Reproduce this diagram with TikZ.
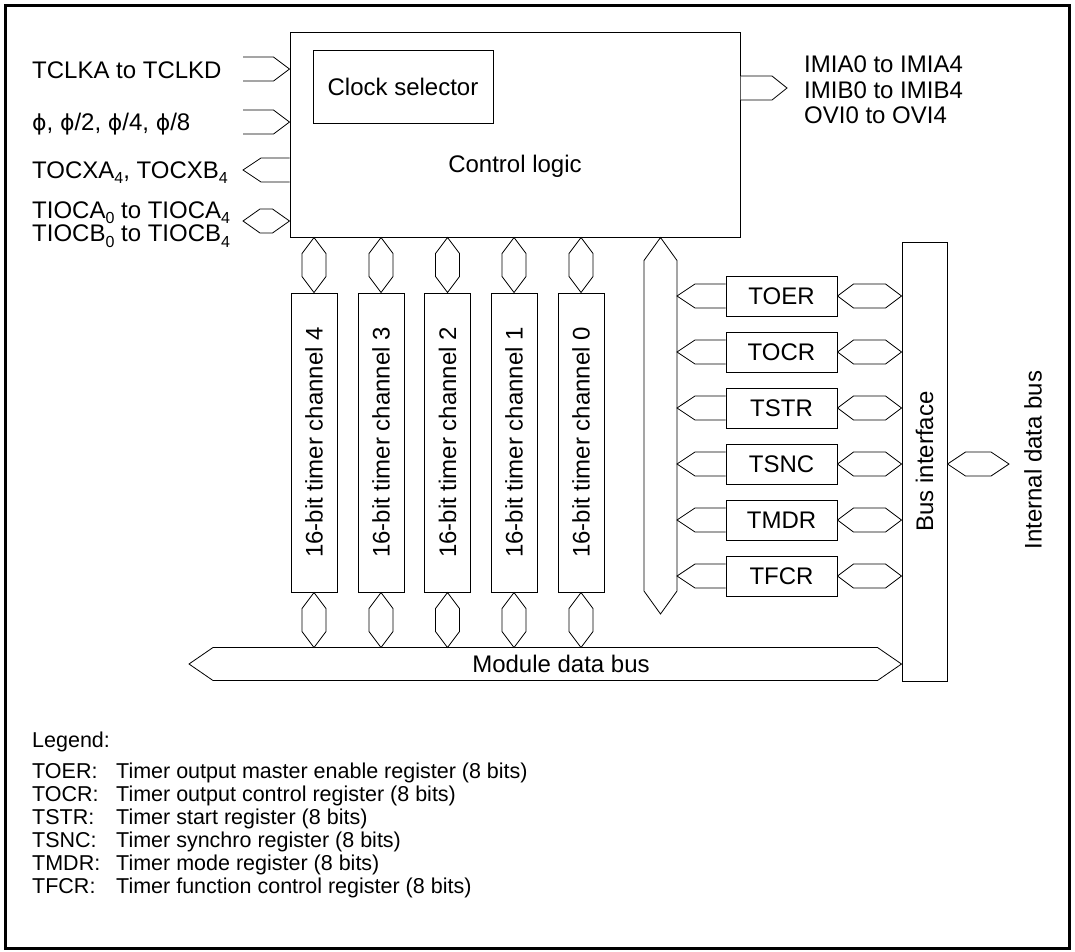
\documentclass[tikz,border=0pt]{standalone}
\usepackage{fontspec}
\setmainfont{Liberation Sans}
\newfontfamily\dvfont{DejaVu Sans}
\usetikzlibrary{calc}
\newcommand\mysub[1]{\raisebox{-0.24em}{\fontsize{16pt}{16pt}\selectfont #1}}
\newcommand\myphi{{\dvfont\fontsize{22pt}{26pt}\selectfont ϕ}}
% horizontal hexagon: #1 half height, #2 head length, #3 left tip, #4 right tip
\newcommand\hhex[4]{\draw[bus] let \p1=#3, \p2=#4 in (\x1,\y1) -- (\x1+#2,\y1+#1) -- (\x2-#2,\y1+#1) -- (\x2,\y1) -- (\x2-#2,\y1-#1) -- (\x1+#2,\y1-#1) -- cycle;}
% right pointing arrow: #3 open end, #4 tip
\newcommand\harrR[4]{\draw[bus] let \p1=#3, \p2=#4 in (\x1,\y2+#1) -- (\x2-#2,\y2+#1) -- (\x2,\y2) -- (\x2-#2,\y2-#1) -- (\x1,\y2-#1);}
% left pointing arrow: #3 tip, #4 open end
\newcommand\harrL[4]{\draw[bus] let \p1=#3, \p2=#4 in (\x2,\y1+#1) -- (\x1+#2,\y1+#1) -- (\x1,\y1) -- (\x1+#2,\y1-#1) -- (\x2,\y1-#1);}
% vertical hexagon: #1 half width, #2 head length, #3 top tip, #4 bottom tip
\newcommand\vhex[4]{\draw[bus] let \p1=#3, \p2=#4 in (\x1,\y1) -- (\x1+#1,\y1-#2) -- (\x1+#1,\y2+#2) -- (\x1,\y2) -- (\x1-#1,\y2+#2) -- (\x1-#1,\y1-#2) -- cycle;}
\tikzset{
  lbl/.style={font=\fontsize{24pt}{28pt}\selectfont, inner sep=0pt},
  leg/.style={font=\fontsize{21.5pt}{24pt}\selectfont, inner sep=0pt, anchor=base west},
  box/.style={draw, line width=1pt, fill=white, inner sep=0pt, font=\fontsize{24pt}{28pt}\selectfont},
  bus/.style={draw, line width=0.8pt, line join=miter, fill=white},
}
\begin{document}
\begin{tikzpicture}[x=1pt,y=-1pt]
\useasboundingbox (0,0) rectangle (1075,951);
\draw[line width=3pt] (5.5,5.5) rectangle (1069.5,948.5);

% control logic
\node[box, minimum width=450pt, minimum height=205pt] (ctrl) at (515,134.5) {};
\node[box, minimum width=180pt, minimum height=73pt] (clk) at (403,86.5) {Clock selector};
\node[lbl, anchor=base] (ctrlt) at (515,172.5) {Control logic};

% bus interface
\node[box, minimum width=45pt, minimum height=439pt] (businf) at (924.5,461.5) {};
\node[lbl, rotate=90] (businft) at (businf) {Bus interface};

% module data bus
\coordinate (mbL) at (189,664);
\coordinate (mbT) at (0,647.5);
\hhex{16.5pt}{24pt}{(mbL)}{(businf.west |- mbL)}
\node[lbl, anchor=base] (mbt) at (561,672) {Module data bus};

% channels
\foreach \ci/\cx in {4/314,3/381,2/447.5,1/514,0/581} {
  \node[box, minimum width=46pt, minimum height=299pt] (ch\ci) at (\cx,442.5) {};
  \node[lbl, rotate=90] (cht\ci) at (ch\ci) {16-bit timer channel \ci};
  \vhex{12pt}{16pt}{(ch\ci.north |- ctrl.south)}{(ch\ci.north)}
  \vhex{12pt}{16pt}{(ch\ci.south)}{(ch\ci.south |- mbT)}
}

% vertical register bus
\coordinate (vbB) at (660.5,614);
\coordinate (vbR) at (677,0);
\vhex{16.5pt}{23pt}{(vbB |- ctrl.south)}{(vbB)}

% registers
\foreach \rn/\ry in {TOER/296,TOCR/352,TSTR/408,TSNC/464,TMDR/520,TFCR/576} {
  \node[box, minimum width=111pt, minimum height=40pt] (\rn) at (781.5,\ry) {\rn};
  \harrL{12pt}{18pt}{(vbR |- \rn.west)}{(\rn.west)}
  \hhex{12pt}{16pt}{(\rn.east)}{(businf.west |- \rn.east)}
}

% internal data bus
\coordinate (idb) at (1009,464);
\hhex{12pt}{18pt}{(businf.east |- idb)}{(idb)}
\node[lbl, rotate=90] (idbt) at (1033,460) {Internal data bus};

% left signals
\coordinate (inA) at (243,69);
\coordinate (inB) at (243,122);
\coordinate (outC) at (243,170);
\coordinate (ioD) at (243,221);
\harrR{12pt}{16pt}{(inA)}{(ctrl.west |- inA)}
\harrR{12pt}{16pt}{(inB)}{(ctrl.west |- inB)}
\harrL{12pt}{18pt}{(outC)}{(ctrl.west |- outC)}
\hhex{12pt}{17pt}{(ioD)}{(ctrl.west |- ioD)}
\node[lbl, anchor=base west] (tA) at (32,78.5) {TCLKA to TCLKD};
\node[lbl, anchor=base west] (tB) at (32,130) {\myphi, \myphi/2, \myphi/4, \myphi/8};
\node[lbl, anchor=base west] (tC) at (32,178) {TOCXA\mysub{4}, TOCXB\mysub{4}};
\node[lbl, anchor=base west] (tD1) at (32,218) {TIOCA\mysub{0} to TIOCA\mysub{4}};
\node[lbl, anchor=base west] (tD2) at (32,241.5) {TIOCB\mysub{0} to TIOCB\mysub{4}};

% right outputs
\coordinate (outR) at (787,88);
\harrR{12pt}{15pt}{(ctrl.east |- outR)}{(outR)}
\node[lbl, anchor=base west] (r1) at (804,72) {IMIA0 to IMIA4};
\node[lbl, anchor=base west] (r2) at (804,98) {IMIB0 to IMIB4};
\node[lbl, anchor=base west] (r3) at (804,123.5) {OVI0 to OVI4};

% legend
\node[leg] (leg) at (32,747) {Legend:};
\foreach \ln/\ld [count=\k from 0] in {TOER/Timer output master enable register (8 bits),
  TOCR/Timer output control register (8 bits),
  TSTR/Timer start register (8 bits),
  TSNC/Timer synchro register (8 bits),
  TMDR/Timer mode register (8 bits),
  TFCR/Timer function control register (8 bits)} {
  \node[leg] (ln\k) at (32,778+23*\k) {\ln:};
  \node[leg] (ld\k) at (116,778+23*\k) {\ld};
}
\end{tikzpicture}
\end{document}
